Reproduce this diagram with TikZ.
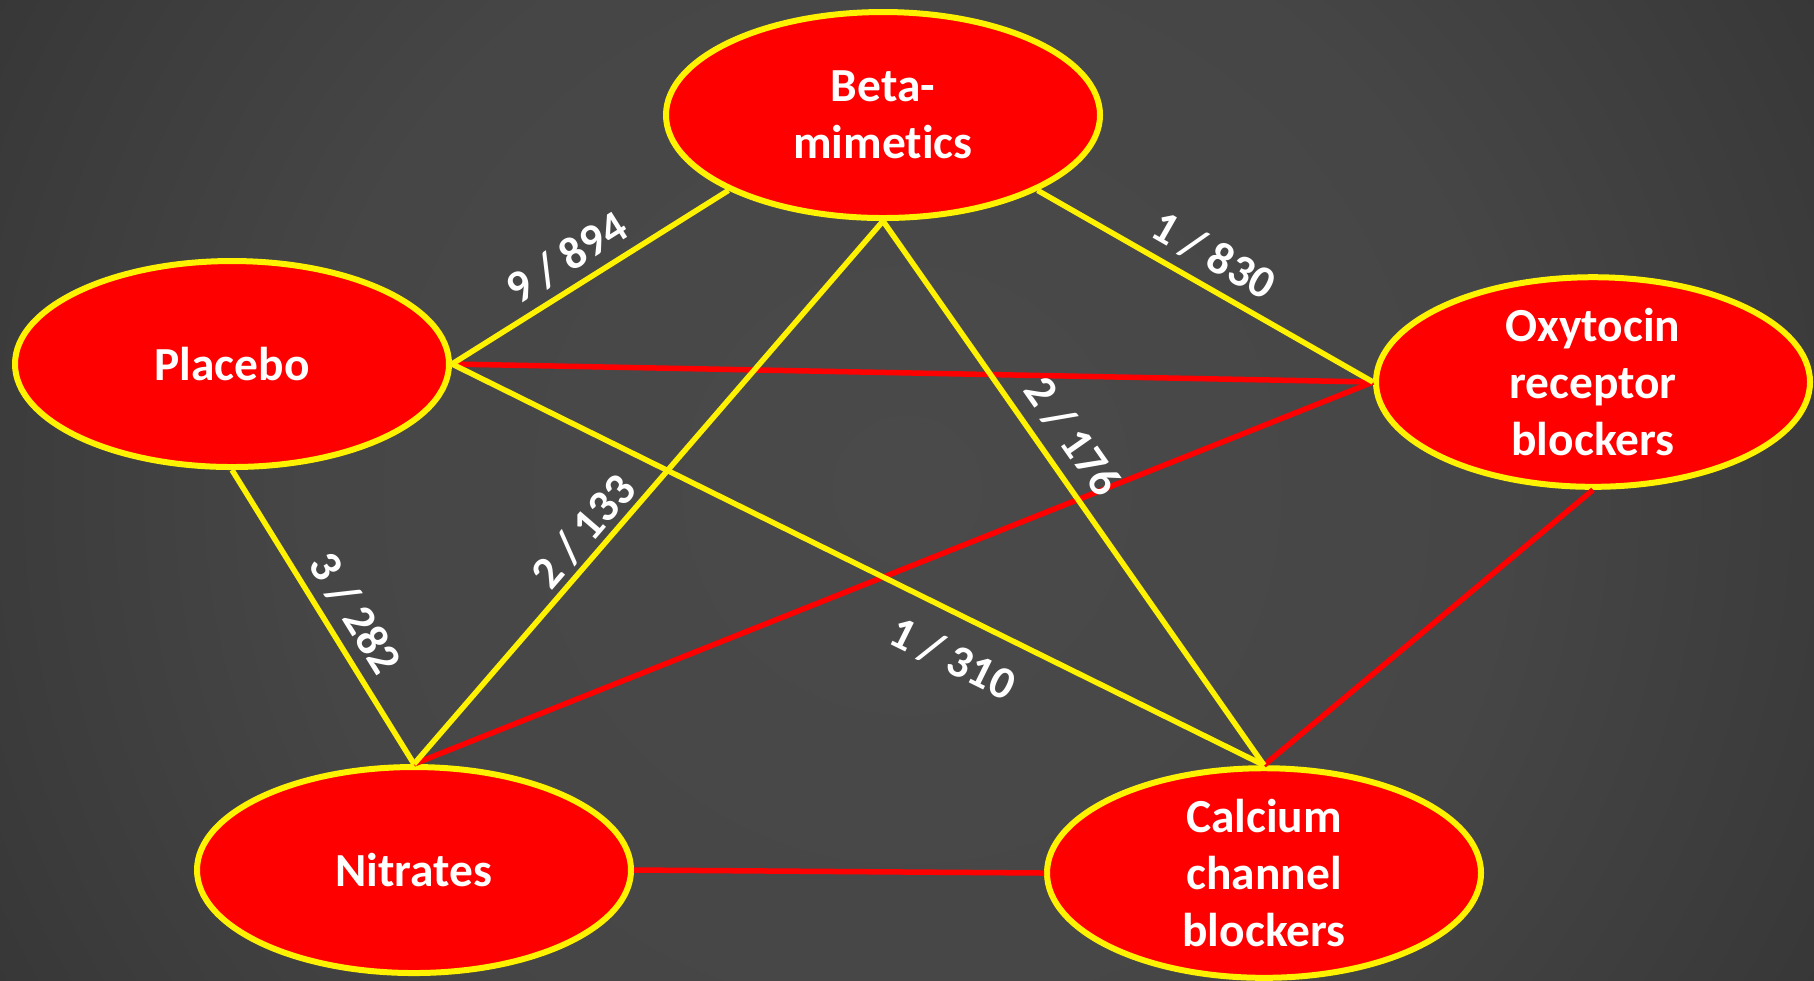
\documentclass[tikz,border=0pt]{standalone}
\usepackage{fontspec}
\setmainfont{Carlito}[Ligatures=NoCommon]
\usetikzlibrary{positioning,shapes}
\definecolor{bgA}{HTML}{4A4A4A}
\definecolor{bgB}{HTML}{464646}
\definecolor{bgC}{HTML}{3C3C3C}
\definecolor{bgD}{HTML}{2A2A2A}
\definecolor{bgE}{HTML}{1B1B1B}
\definecolor{bgF}{HTML}{161616}
\pgfdeclareradialshading{bg shade}{\pgfpoint{0bp}{0bp}}{color(0bp)=(bgA); color(14.5bp)=(bgB); color(21.8bp)=(bgC); color(34bp)=(bgD); color(43.6bp)=(bgE); color(50bp)=(bgF)}
\tikzset {
    style A/.style={
        ellipse, % Set the shape as an ellipse
        fill=red,
        draw=yellow,
        line width=0.6mm,
        minimum width=4.34cm,
        minimum height=2.06cm,
        inner sep=0pt,
        text=white,
        font=\bfseries\fontsize{13.5}{16.3}\selectfont,
        align=center,
    },
    style B/.style={
        sloped,
        text=white,
        inner sep=0pt,
        font=\bfseries\fontsize{13}{15}\selectfont,
    },
    style Y/.style={draw=yellow, line width=0.55mm},
    style R/.style={draw=red, line width=0.55mm},
}
\begin{document}
\begin{tikzpicture}
\useasboundingbox (0,0) rectangle (18.14,-9.80);
\fill[bgF] (0,0) rectangle (18.14,-9.80);
\begin{scope}
\clip (0,0) rectangle (18.14,-9.80);
\shade[shading=bg shade] (9.07,-4.90) circle (10.31);
\end{scope}

\node[style A] at (8.83, -1.15) (beta) {Beta-\\mimetics};
\node[style A] at (2.32, -3.64) (placebo) {Placebo};
\node[style A] at (15.93, -3.82) (oxy) {Oxytocin\\receptor\\blockers};
\node[style A] at (4.14, -8.70) (nitrates) {Nitrates};
\node[style A] at (12.64, -8.73) (calcium) {Calcium\\channel\\blockers};

\draw[style R] (placebo.east) -- (oxy.west);
\draw[style R] (nitrates.north) -- (oxy.west);
\draw[style R] (oxy.south) -- (calcium.north);
\draw[style R] (nitrates.east) -- (calcium.west);
\draw[style Y] (placebo.east) -- node[style B, above=2.6pt, pos=0.47] {9 / 894} (beta.206);
\draw[style Y] (beta.334) -- node[style B, above=3.2pt, pos=0.48] {1 / 830} (oxy.west);
\draw[style Y] (beta.south) -- node[style B, above=3.4pt, pos=0.43] {2 / 176} (calcium.north);
\draw[style Y] (nitrates.north) -- node[style B, above=1.2pt, pos=0.40] {2 / 133} (beta.south);
\draw[style Y] (placebo.south) -- node[style B, above=2.8pt, pos=0.54] {3 / 282} (nitrates.north);
\draw[style Y] (placebo.east) -- node[style B, below=6.3pt, pos=0.64] {1 / 310} (calcium.north);
\end{tikzpicture}
\end{document}
